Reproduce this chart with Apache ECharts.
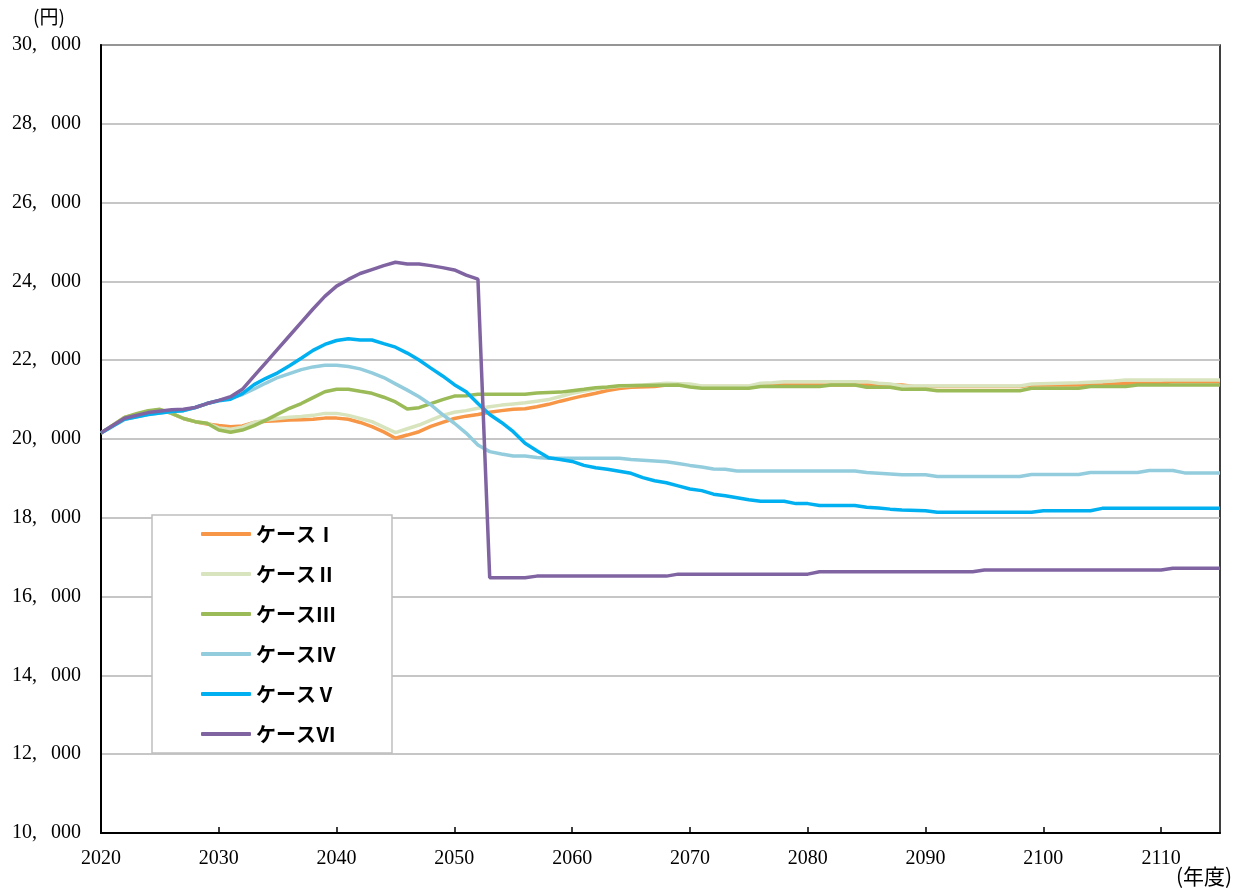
<!DOCTYPE html>
<html>
<head>
<meta charset="utf-8">
<script src="https://cdn.jsdelivr.net/npm/echarts@6/dist/echarts.min.js"></script>
<style>
  html, body { margin: 0; padding: 0; background: #fff; }
  #container { width: 1248px; height: 893px; }
</style>
</head>
<body>
<div id="container"></div>
<script>
var names = ['ケースⅠ', 'ケースⅡ', 'ケースⅢ', 'ケースⅣ', 'ケースⅤ', 'ケースⅥ'];
var colors = ['#F79646', '#D7E4BD', '#9BBB59', '#93CDDD', '#00B0F0', '#8064A2'];
var yTicks = [10000, 12000, 14000, 16000, 18000, 20000, 22000, 24000, 26000, 28000, 30000];

// [年度, 円]
var case1 = [[2020,20150],[2022,20550],[2024,20690],[2025,20740],[2026,20650],[2027,20520],[2028,20440],[2029,20380],
  [2030,20340],[2031,20313],[2032,20330],[2033,20420],[2034,20450],[2035,20464],[2036,20480],[2037,20490],[2038,20500],
  [2039,20530],[2040,20530],[2041,20500],[2042,20420],[2043,20313],[2044,20180],[2045,20018],[2046,20100],[2047,20185],
  [2048,20320],[2049,20420],[2050,20520],[2051,20580],[2052,20620],[2053,20680],[2054,20720],[2055,20754],[2056,20770],
  [2057,20820],[2058,20880],[2059,20960],[2060,21032],[2061,21100],[2062,21160],[2063,21230],[2064,21280],[2065,21312],
  [2067,21330],[2068,21371],[2070,21371],[2071,21330],[2075,21330],[2076,21371],[2088,21371],[2089,21330],[2098,21330],
  [2099,21371],[2105,21371],[2106,21414],[2110,21414],[2111,21456],[2115,21456]];
var case2 = [[2020,20150],[2022,20550],[2024,20700],[2025,20750],[2026,20650],[2027,20520],[2028,20440],[2029,20400],
  [2030,20280],[2031,20250],[2032,20300],[2033,20420],[2034,20480],[2035,20520],[2036,20550],[2037,20570],[2038,20600],
  [2039,20650],[2040,20650],[2041,20600],[2042,20520],[2043,20440],[2044,20300],[2045,20160],[2046,20260],[2047,20355],
  [2048,20480],[2049,20600],[2050,20680],[2051,20720],[2052,20780],[2053,20820],[2054,20860],[2055,20890],[2056,20920],
  [2057,20960],[2058,21000],[2059,21080],[2060,21160],[2061,21220],[2062,21270],[2063,21310],[2064,21340],[2066,21370],
  [2068,21414],[2070,21396],[2071,21345],[2075,21345],[2076,21414],[2077,21430],[2078,21456],[2085,21456],[2086,21414],
  [2087,21396],[2088,21345],[2098,21345],[2099,21396],[2103,21430],[2106,21470],[2107,21497],[2115,21497]];
var case3 = [[2020,20150],[2022,20550],[2023,20640],[2024,20720],[2025,20754],[2026,20650],[2027,20520],[2028,20440],
  [2029,20400],[2030,20230],[2031,20170],[2032,20228],[2033,20340],[2034,20480],[2035,20630],[2036,20780],[2037,20900],
  [2038,21050],[2039,21200],[2040,21261],[2041,21261],[2042,21210],[2043,21160],[2044,21060],[2045,20940],[2046,20760],
  [2047,20794],[2048,20900],[2049,21000],[2050,21090],[2051,21100],[2052,21134],[2056,21134],[2057,21170],[2059,21190],
  [2060,21226],[2061,21260],[2062,21302],[2063,21320],[2064,21353],[2069,21371],[2070,21320],[2071,21287],[2075,21287],
  [2076,21330],[2081,21330],[2082,21371],[2084,21371],[2085,21312],[2087,21312],[2088,21261],[2090,21261],[2091,21226],
  [2098,21226],[2099,21287],[2103,21287],[2104,21330],[2107,21330],[2108,21371],[2115,21371]];
var case4 = [[2020,20150],[2022,20500],[2024,20620],[2026,20700],[2027,20720],[2028,20800],[2029,20900],[2030,20980],
  [2031,21040],[2032,21130],[2033,21270],[2034,21420],[2035,21560],[2036,21660],[2037,21760],[2038,21830],[2039,21870],
  [2040,21870],[2041,21840],[2042,21780],[2043,21680],[2044,21560],[2045,21400],[2046,21240],[2047,21074],[2048,20870],
  [2049,20620],[2050,20400],[2051,20150],[2052,19850],[2053,19680],[2054,19620],[2055,19570],[2056,19570],[2057,19530],
  [2058,19510],[2064,19510],[2065,19480],[2066,19460],[2068,19420],[2069,19380],[2070,19330],[2071,19290],[2072,19240],
  [2073,19230],[2074,19190],[2084,19190],[2085,19150],[2086,19130],[2088,19090],[2090,19090],[2091,19050],[2098,19050],
  [2099,19100],[2103,19100],[2104,19150],[2108,19150],[2109,19200],[2111,19200],[2112,19140],[2115,19140]];
var case5 = [[2020,20150],[2022,20500],[2024,20620],[2026,20700],[2027,20720],[2028,20800],[2029,20900],[2030,20970],
  [2031,21010],[2032,21150],[2033,21380],[2034,21540],[2035,21680],[2036,21860],[2037,22050],[2038,22250],[2039,22400],
  [2040,22500],[2041,22546],[2042,22513],[2043,22513],[2044,22420],[2045,22330],[2046,22180],[2047,22005],[2048,21800],
  [2049,21600],[2050,21380],[2051,21201],[2052,20900],[2053,20620],[2054,20420],[2055,20185],[2056,19890],[2057,19700],
  [2058,19525],[2059,19480],[2060,19430],[2061,19330],[2062,19270],[2063,19230],[2064,19180],[2065,19130],[2066,19020],
  [2067,18940],[2068,18890],[2069,18810],[2070,18730],[2071,18690],[2072,18600],[2073,18560],[2074,18510],[2075,18460],
  [2076,18420],[2078,18420],[2079,18360],[2080,18360],[2081,18310],[2084,18310],[2085,18270],[2086,18250],[2087,18220],
  [2088,18200],[2090,18180],[2091,18140],[2099,18140],[2100,18180],[2104,18180],[2105,18240],[2115,18240]];
var case6 = [[2020,20160],[2022,20525],[2024,20670],[2026,20740],[2027,20754],[2028,20800],[2029,20900],[2030,20980],
  [2031,21074],[2032,21261],[2033,21600],[2034,21940],[2035,22280],[2036,22620],[2037,22960],[2038,23300],[2039,23620],
  [2040,23880],[2041,24050],[2042,24200],[2043,24300],[2044,24400],[2045,24485],[2046,24440],[2047,24440],[2048,24400],
  [2049,24350],[2050,24290],[2051,24160],[2052,24060],[2053,16480],[2056,16480],[2057,16520],[2068,16520],[2069,16570],
  [2080,16570],[2081,16630],[2094,16630],[2095,16675],[2110,16675],[2111,16720],[2115,16720]];

var seriesData = [case1, case2, case3, case4, case5, case6];

var myChart = echarts.init(document.getElementById('container'));

var serifFont = '"Liberation Serif", "DejaVu Serif", serif';
var cjkFont = '"Noto Sans CJK JP", sans-serif';

var options = {
  animation: false,
  backgroundColor: '#fff',
  grid: {
    left: 101, right: 28, top: 45, bottom: 60,
    show: true, borderColor: '#000', borderWidth: 1.5
  },
  legend: {
    orient: 'vertical',
    left: 152, top: 515,
    data: names.map(function (n) { return { name: n, icon: 'roundRect' }; }),
    itemWidth: 50, itemHeight: 4, itemGap: 20,
    padding: [9, 56, 9, 49],
    borderColor: '#bfbfbf', borderWidth: 1.5,
    backgroundColor: '#fff',
    textStyle: { fontFamily: cjkFont, fontSize: 20, fontWeight: 'bold', lineHeight: 20, color: '#000' }
  },
  xAxis: {
    type: 'value',
    min: 2020, max: 2115, interval: 10,
    axisLine: { show: true, lineStyle: { color: '#000', width: 2 } },
    axisTick: { show: true, inside: true, length: 6, lineStyle: { color: '#000', width: 1.5 } },
    axisLabel: {
      fontFamily: serifFont, fontSize: 20, color: '#000', margin: 16,
      showMaxLabel: false,
      formatter: function (v) { return v % 10 === 0 ? String(v) : ''; }
    },
    splitLine: { show: false }
  },
  yAxis: {
    type: 'value',
    min: yTicks[0], max: yTicks[yTicks.length - 1], interval: 2000,
    axisLine: { show: true, lineStyle: { color: '#000', width: 2 } },
    axisTick: { show: false },
    axisLabel: {
      fontFamily: serifFont, fontSize: 20, color: '#000', margin: 20,
      formatter: function (v) {
        var s = String(v);
        return s.slice(0, s.length - 3) + ',\u2002\u2009' + s.slice(-3);
      }
    },
    splitLine: { show: true, lineStyle: { color: '#b3b3b3', width: 1.5 } }
  },
  graphic: [
    { type: 'text', left: 33, top: 7, style: { text: '(円)', font: '19px ' + cjkFont, fill: '#000' } },
    { type: 'text', left: 1176, top: 866, style: { text: '(年度)', font: '21px ' + cjkFont, fill: '#000' } }
  ],
  series: seriesData.map(function (d, i) {
    return {
      name: names[i],
      type: 'line',
      data: d,
      symbol: 'none',
      color: colors[i],
      lineStyle: { width: 3.5, color: colors[i] },
      z: 2 + i
    };
  })
};

myChart.setOption(options);
</script>
</body>
</html>
